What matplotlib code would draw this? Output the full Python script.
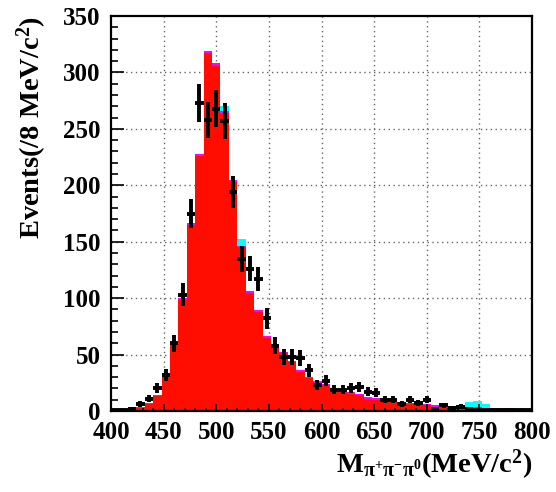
import numpy as np
import matplotlib
matplotlib.use('Agg')
import matplotlib.pyplot as plt
from matplotlib.ticker import MultipleLocator

plt.rcParams['font.family'] = ['Liberation Serif', 'DejaVu Serif']
plt.rcParams['font.weight'] = 'bold'
plt.rcParams['axes.labelweight'] = 'bold'
plt.rcParams['mathtext.fontset'] = 'custom'
plt.rcParams['mathtext.rm'] = 'Liberation Serif:bold'
plt.rcParams['mathtext.it'] = 'Liberation Serif:bold'
plt.rcParams['mathtext.bf'] = 'Liberation Serif:bold'
plt.rcParams['mathtext.default'] = 'bf'

# 8 MeV bins from 400 to 800
edges = np.arange(400, 801, 8)

# MC components (stacked): red main, magenta thin, cyan small
mc_red = [1.5, 1.5, 2, 3, 6, 13, 32, 60, 98, 165, 226, 317, 306, 264, 203, 145,
          105, 88, 65, 57, 51, 43, 35, 29, 25, 22, 19, 17, 15, 14, 11, 10,
          9, 8, 7, 6, 5.5, 5, 4, 4, 3.5, 3, 3, 2.5, 2, 2, 1.5, 1.5, 1, 1]
mc_mag = [0.5, 0.5, 0.5, 1, 1, 1, 1.5, 1.5, 2, 2, 2, 2, 2, 2, 2, 1.5,
          1.5, 1.5, 1.5, 1.5, 1.5, 1.5, 1.5, 1.5, 1.5, 1.5, 1.5, 1.5, 1.5, 1.5, 1.5, 1.5,
          1, 1, 1, 1, 1, 1, 1, 1, 1, 1, 1, 1, 1, 1, 1, 1, 1, 1]
mc_cyan = [0, 0, 0, 0, 0, 0, 0, 0, 0, 0, 0, 0, 0, 4, 0, 5.5,
           0, 0, 0, 0, 0, 0, 0, 0, 0, 0, 0, 0, 0, 0, 0, 0,
           0, 0, 0, 0, 0, 0, 0, 0, 0, 1, 4, 5, 3, 0, 0, 0, 0, 0]

# data
data = [1, 1, 2, 6, 11, 20, 32, 60, 103, 175, 273, 258, 268, 257, 194, 135,
        126, 117, 82, 58, 48, 48, 47, 36, 23, 27, 19, 19, 20, 21, 17, 16,
        10, 10, 6, 10, 7, 10, 2, 5, 3, 4, 2, 1, 1, 1, 1, 1, 1, 1]

red = np.array(mc_red)
mag = red + np.array(mc_mag)
tot = mag + np.array(mc_cyan)
d = np.array(data, dtype=float)
centers = (edges[:-1] + edges[1:]) / 2

fig = plt.figure(figsize=(5.56, 4.92), dpi=100)
ax = fig.add_axes([0.1996, 0.1646, 0.7574, 0.8029])

# grid behind the histograms
for gx in range(450, 800, 50):
    ax.axvline(gx, color='#666666', ls=(0, (1, 2.5)), lw=1, zorder=0.3)
for gy in range(50, 350, 50):
    ax.axhline(gy, color='#666666', ls=(0, (1, 2.5)), lw=1, zorder=0.3)

ax.stairs(tot, edges, fill=True, color='#00FFFF', lw=0, zorder=1)
ax.stairs(mag, edges, fill=True, color='#FF00FF', lw=0, zorder=1.1)
ax.stairs(red, edges, fill=True, color='#FF0D00', lw=0, zorder=1.2)

ax.errorbar(centers, d, xerr=4, yerr=np.sqrt(d), fmt='none', ecolor='black',
            elinewidth=2.8, capsize=0, zorder=3)

ax.set_xlim(400, 800)
ax.set_ylim(0, 350)
ax.xaxis.set_major_locator(MultipleLocator(50))
ax.xaxis.set_minor_locator(MultipleLocator(10))
ax.yaxis.set_major_locator(MultipleLocator(50))
ax.yaxis.set_minor_locator(MultipleLocator(10))
ax.tick_params(axis='both', which='both', direction='in', top=False, right=False,
               width=1.2, color='black', zorder=4)
ax.tick_params(axis='x', which='major', length=5, pad=7, labelsize=18)
ax.tick_params(axis='x', which='minor', length=2.5)
ax.tick_params(axis='y', which='major', length=9.5, pad=7.5, labelsize=18)
ax.tick_params(axis='y', which='minor', length=5)
for lbl in ax.get_xticklabels() + ax.get_yticklabels():
    lbl.set_fontweight('bold')
for s in ax.spines.values():
    s.set_linewidth(1.6)
    s.set_zorder(5)

ax.set_ylabel(r'Events(/8 MeV/c$^{\mathbf{2}}$)', fontsize=20.5, fontweight='bold',
              loc='top', labelpad=10)
ax.set_xlabel(r'M$_{π^{+}π^{-}π^{0}}$(MeV/c$^{\mathbf{2}}$)', fontsize=20.5,
              fontweight='bold', loc='right', labelpad=3)

fig.savefig('out.png', dpi=100)
